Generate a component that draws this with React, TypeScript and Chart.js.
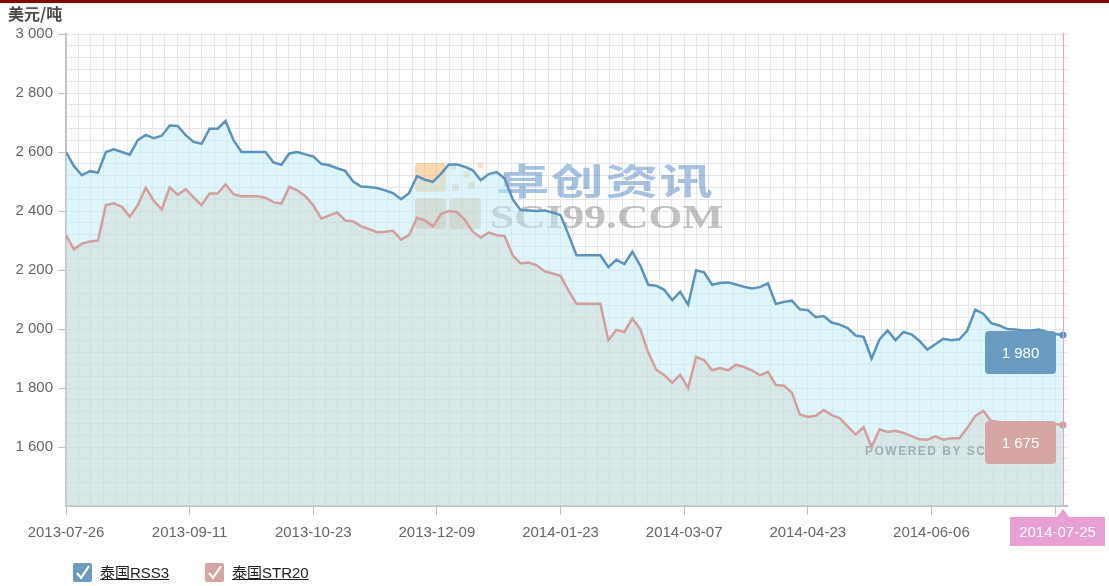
import React, { useEffect, useRef } from 'react';
import { Chart, registerables } from 'chart.js';

Chart.register(...registerables);

const W = 1109;
const H = 586;

const xTickLabels = ['2013-07-26', '2013-09-11', '2013-10-23', '2013-12-09', '2014-01-23', '2014-03-07', '2014-04-23', '2014-06-06'];
const lastDateLabel = '2014-07-25';
const seriesNames = ['泰国RSS3', '泰国STR20'];
const unitLabel = '美元/吨';

// one value every 2 trading days, 2013-07-26 .. 2014-07-25
const rss3Values = [
  2600, 2552, 2521, 2535, 2530, 2600, 2609, 2600, 2591, 2640,
  2658, 2647, 2655, 2690, 2688, 2657, 2634, 2628, 2679, 2679,
  2705, 2640, 2600, 2600, 2600, 2600, 2565, 2557, 2595, 2600,
  2592, 2585, 2560, 2555, 2545, 2536, 2500, 2483, 2481, 2478,
  2470, 2461, 2440, 2460, 2518, 2506, 2499, 2526, 2558, 2558,
  2550, 2538, 2504, 2525, 2532, 2510, 2440, 2403, 2402, 2400,
  2402, 2395, 2386, 2320, 2250, 2250, 2250, 2250, 2210, 2235,
  2220, 2262, 2215, 2150, 2147, 2133, 2098, 2126, 2082, 2199,
  2192, 2150, 2156, 2158, 2151, 2143, 2137, 2142, 2155, 2085,
  2092, 2096, 2067, 2064, 2040, 2044, 2022, 2015, 2003, 1978,
  1973, 1900, 1965, 1995, 1962, 1990, 1982, 1960, 1930, 1948,
  1967, 1962, 1965, 1995, 2065, 2052, 2020, 2012, 2000, 1998,
  1995, 1995, 1998, 1990, 1983, 1980,
];

const str20Values = [
  2318, 2270, 2289, 2297, 2300, 2420, 2426, 2414, 2381, 2420,
  2479, 2435, 2405, 2480, 2455, 2474, 2446, 2420, 2459, 2459,
  2490, 2457, 2450, 2450, 2450, 2445, 2430, 2425, 2482, 2470,
  2450, 2420, 2374, 2385, 2395, 2368, 2365, 2348, 2339, 2328,
  2330, 2333, 2303, 2318, 2377, 2368, 2348, 2390, 2400, 2397,
  2370, 2330, 2310, 2327, 2318, 2315, 2250, 2222, 2225, 2216,
  2196, 2188, 2180, 2130, 2086, 2086, 2086, 2086, 1962, 1997,
  1990, 2036, 2000, 1920, 1862, 1844, 1818, 1845, 1800, 1905,
  1895, 1860, 1868, 1860, 1879, 1871, 1860, 1843, 1855, 1810,
  1808, 1785, 1710, 1702, 1706, 1725, 1708, 1698, 1670, 1642,
  1667, 1600, 1660, 1651, 1655, 1648, 1637, 1626, 1625, 1636,
  1625, 1630, 1630, 1665, 1705, 1722, 1688, 1685, 1682, 1680,
  1680, 1678, 1680, 1678, 1678, 1675,
];

const DAYS_PER_POINT = 2;
const DAYS_PER_MAJOR = 31;
const MINOR_PER_MAJOR = 10;
const X_MAX = 251;
const Y_MIN = 1400;
const Y_MAX = 3000;
const Y_MAJOR = 200;
const Y_MINOR = 40;

const BLUE = '#5b93bf';
const BLUE_BOX = '#6a9cc2';
const RED = '#d49f9b';
const RED_BOX = '#d4a5a2';
const PINK = '#e8a0d4';
const FONT = '"Liberation Sans", Arial, sans-serif';

function fmt(v: number) {
  const s = String(Math.round(v));
  return s.length > 3 ? s.slice(0, -3) + ' ' + s.slice(-3) : s;
}

const isMajorY = (v: number) => v > Y_MIN && (v - Y_MIN) % Y_MAJOR === 0;

const overlayPlugin = {
  id: 'overlay',
  beforeDatasetsDraw(chart: any) {
    const ctx = chart.ctx as CanvasRenderingContext2D;
    ctx.save();
    const sq = (x: number, y: number, w: number, h: number, c: string, r = 3) => {
      ctx.fillStyle = c;
      ctx.beginPath();
      (ctx as any).roundRect(x, y, w, h, r);
      ctx.fill();
    };
    // logo
    sq(415, 163, 31, 29, 'rgba(245,170,80,0.45)', 4);
    sq(450, 164, 6, 6, 'rgba(245,185,110,0.45)', 1);
    sq(463, 171, 7, 7, 'rgba(245,185,110,0.4)', 1);
    sq(478, 163, 5, 5, 'rgba(245,185,110,0.4)', 1);
    sq(468, 182, 7, 7, 'rgba(215,175,120,0.45)', 1);
    sq(452, 184, 7, 7, 'rgba(215,175,120,0.45)', 1);
    sq(415, 198, 31, 31, 'rgba(205,150,100,0.45)', 4);
    sq(450, 198, 31, 31, 'rgba(205,150,100,0.4)', 4);
    // brand text
    ctx.save();
    ctx.translate(496, 181);
    ctx.scale(1.16, 0.8);
    ctx.font = 'bold 46px "Noto Sans CJK SC"';
    (ctx as any).letterSpacing = '1px';
    ctx.textBaseline = 'middle';
    ctx.fillStyle = 'rgba(60,120,190,0.45)';
    ctx.fillText('卓创资讯', 0, 0);
    ctx.restore();
    ctx.save();
    ctx.translate(490, 219);
    ctx.scale(1.28, 1);
    ctx.font = 'bold 34px "Liberation Serif"';
    ctx.textBaseline = 'middle';
    ctx.fillStyle = 'rgba(110,110,110,0.42)';
    ctx.fillText('SCI99.COM', 0, 0);
    ctx.restore();
    ctx.font = 'bold 12px ' + FONT;
    (ctx as any).letterSpacing = '1.5px';
    ctx.textBaseline = 'middle';
    ctx.fillStyle = '#5a6163';
    ctx.fillText('POWERED BY SCI99', 865, 452);
    ctx.restore();
  },
  afterDatasetsDraw(chart: any) {
    const ctx = chart.ctx as CanvasRenderingContext2D;
    const area = chart.chartArea;
    const xs = chart.scales.x;
    const lastX = xs.getPixelForValue((rss3Values.length - 1) * DAYS_PER_POINT);
    ctx.save();
    ctx.strokeStyle = PINK;
    ctx.lineWidth = 1;
    ctx.beginPath();
    ctx.moveTo(Math.round(lastX) + 0.5, area.top - 1);
    ctx.lineTo(Math.round(lastX) + 0.5, area.bottom);
    ctx.stroke();
    const boxes = [BLUE_BOX, RED_BOX];
    chart.data.datasets.forEach((ds: any, i: number) => {
      const meta = chart.getDatasetMeta(i);
      const pt = meta.data[meta.data.length - 1];
      const w = 71;
      const h = 43;
      const left = pt.x - 78;
      const top = pt.y - 4;
      ctx.fillStyle = boxes[i];
      ctx.beginPath();
      (ctx as any).roundRect(left, top, w, h, 4);
      ctx.fill();
      ctx.fillStyle = '#ffffff';
      ctx.font = '15px ' + FONT;
      ctx.textAlign = 'center';
      ctx.textBaseline = 'middle';
      const v = ds.data[ds.data.length - 1].y;
      ctx.fillText(fmt(v), left + w / 2, top + h / 2 + 1);
    });
    ctx.restore();
  },
  afterDraw(chart: any) {
    const ctx = chart.ctx as CanvasRenderingContext2D;
    const area = chart.chartArea;
    const xs = chart.scales.x;
    const lastX = xs.getPixelForValue((rss3Values.length - 1) * DAYS_PER_POINT);
    const bw = 95;
    const bh = 29;
    const bl = Math.min(lastX - bw / 2, W - 4 - bw);
    const bt = area.bottom + 11;
    ctx.save();
    ctx.fillStyle = PINK;
    ctx.beginPath();
    ctx.moveTo(lastX - 6, bt);
    ctx.lineTo(lastX, bt - 8);
    ctx.lineTo(lastX + 6, bt);
    ctx.closePath();
    ctx.fill();
    ctx.fillRect(bl, bt, bw, bh);
    ctx.fillStyle = '#ffffff';
    ctx.font = '15px ' + FONT;
    ctx.textAlign = 'center';
    ctx.textBaseline = 'middle';
    ctx.fillText(lastDateLabel, bl + bw / 2, bt + bh / 2 + 1);
    ctx.restore();
  },
};

const CheckBox = ({ color }: { color: string }) => (
  <span style={{ display: 'inline-block', width: 19, height: 19, background: color, borderRadius: 2, position: 'relative' }}>
    <svg width="19" height="19" style={{ position: 'absolute', left: 0, top: 0 }}>
      <polyline points="4,10 8,15 16,3" fill="none" stroke="#ffffff" strokeWidth="2.2" />
    </svg>
  </span>
);

export default function App() {
  const ref = useRef<HTMLCanvasElement>(null);

  useEffect(() => {
    document.body.style.margin = '0';
    const canvas = ref.current;
    if (!canvas) return;
    const toPoints = (vals: number[]) => vals.map((v, i) => ({ x: i * DAYS_PER_POINT, y: v }));
    const lastRadius = (c: any) => (c.dataIndex === c.dataset.data.length - 1 ? 3.5 : 0);

    const chart = new Chart(canvas, {
      type: 'line',
      data: {
        datasets: [
          {
            label: seriesNames[0],
            data: toPoints(rss3Values),
            borderColor: BLUE,
            borderWidth: 2.5,
            backgroundColor: 'rgba(190,238,248,0.5)',
            fill: 'start',
            pointRadius: lastRadius,
            pointHoverRadius: 0,
            pointBackgroundColor: BLUE,
            pointBorderWidth: 0,
            tension: 0,
            order: 1,
          },
          {
            label: seriesNames[1],
            data: toPoints(str20Values),
            borderColor: RED,
            borderWidth: 2.5,
            backgroundColor: 'rgba(202,196,188,0.3)',
            fill: 'start',
            pointRadius: lastRadius,
            pointHoverRadius: 0,
            pointBackgroundColor: RED,
            pointBorderWidth: 0,
            tension: 0,
            order: 0,
          },
        ],
      },
      options: {
        responsive: false,
        animation: false,
        devicePixelRatio: 1,
        layout: { padding: { left: 0, right: W - 1067, top: 34, bottom: H - 506 - 34 } },
        plugins: { legend: { display: false }, tooltip: { enabled: false }, title: { display: false } },
        scales: {
          x: {
            type: 'linear',
            min: 0,
            max: X_MAX,
            afterBuildTicks: (s: any) => {
              const t = [];
              for (let k = 0; k <= xTickLabels.length * MINOR_PER_MAJOR; k++) {
                t.push({ value: (k * DAYS_PER_MAJOR) / MINOR_PER_MAJOR });
              }
              s.ticks = t;
            },
            afterFit: (s: any) => {
              s.height = 34;
            },
            ticks: {
              autoSkip: false,
              maxRotation: 0,
              minRotation: 0,
              padding: 9,
              color: '#666666',
              font: { family: FONT, size: 15 },
              callback: (_v: any, i: number) => (i % MINOR_PER_MAJOR === 0 ? xTickLabels[i / MINOR_PER_MAJOR] ?? '' : ''),
            },
            grid: {
              color: '#e6e6e6',
              lineWidth: 1,
              tickLength: 9,
              tickColor: (c: any) => (c.index % MINOR_PER_MAJOR === 0 ? '#c0c0c0' : 'rgba(0,0,0,0)'),
            },
            border: { display: true, color: '#c4c4c4', width: 2 },
          },
          y: {
            type: 'linear',
            min: Y_MIN,
            max: Y_MAX,
            afterBuildTicks: (s: any) => {
              const t = [];
              for (let v = Y_MIN; v <= Y_MAX; v += Y_MINOR) t.push({ value: v });
              s.ticks = t;
            },
            afterFit: (s: any) => {
              s.width = 66;
            },
            ticks: {
              autoSkip: false,
              padding: 5,
              color: '#666666',
              font: { family: FONT, size: 15 },
              callback: (v: any) => (isMajorY(Number(v)) ? fmt(Number(v)) : ''),
            },
            grid: {
              color: '#e6e6e6',
              lineWidth: 1,
              tickLength: 8,
              tickColor: (c: any) => (c.tick && isMajorY(c.tick.value) ? '#c0c0c0' : 'rgba(0,0,0,0)'),
            },
            border: { display: true, color: '#c4c4c4', width: 2 },
          },
        },
      },
      plugins: [overlayPlugin],
    } as any);

    return () => chart.destroy();
  }, []);

  return (
    <div style={{ position: 'relative', width: W, height: H, overflow: 'hidden', background: '#ffffff', fontFamily: FONT }}>
      <canvas ref={ref} width={W} height={H} style={{ position: 'absolute', left: 0, top: 0, width: W, height: H }} />
      <div style={{ position: 'absolute', left: 0, top: 0, width: W, height: 3, background: '#860000' }} />
      <div
        style={{
          position: 'absolute',
          left: 8,
          top: 5,
          lineHeight: '16px',
          fontSize: 16,
          fontWeight: 'bold',
          color: '#4a4a4a',
          fontFamily: '"Noto Sans CJK SC", ' + FONT,
        }}
      >
        {unitLabel}
      </div>
      {[BLUE_BOX, RED_BOX].map((c, i) => (
        <div
          key={i}
          style={{ position: 'absolute', left: i === 0 ? 73 : 205, top: 563, height: 19, display: 'flex', alignItems: 'center' }}
        >
          <CheckBox color={c} />
          <span
            style={{
              marginLeft: 8,
              fontSize: 15,
              lineHeight: '19px',
              color: '#222222',
              textDecoration: 'underline',
              fontFamily: FONT + ', "Noto Sans CJK SC"',
            }}
          >
            {seriesNames[i]}
          </span>
        </div>
      ))}
    </div>
  );
}
